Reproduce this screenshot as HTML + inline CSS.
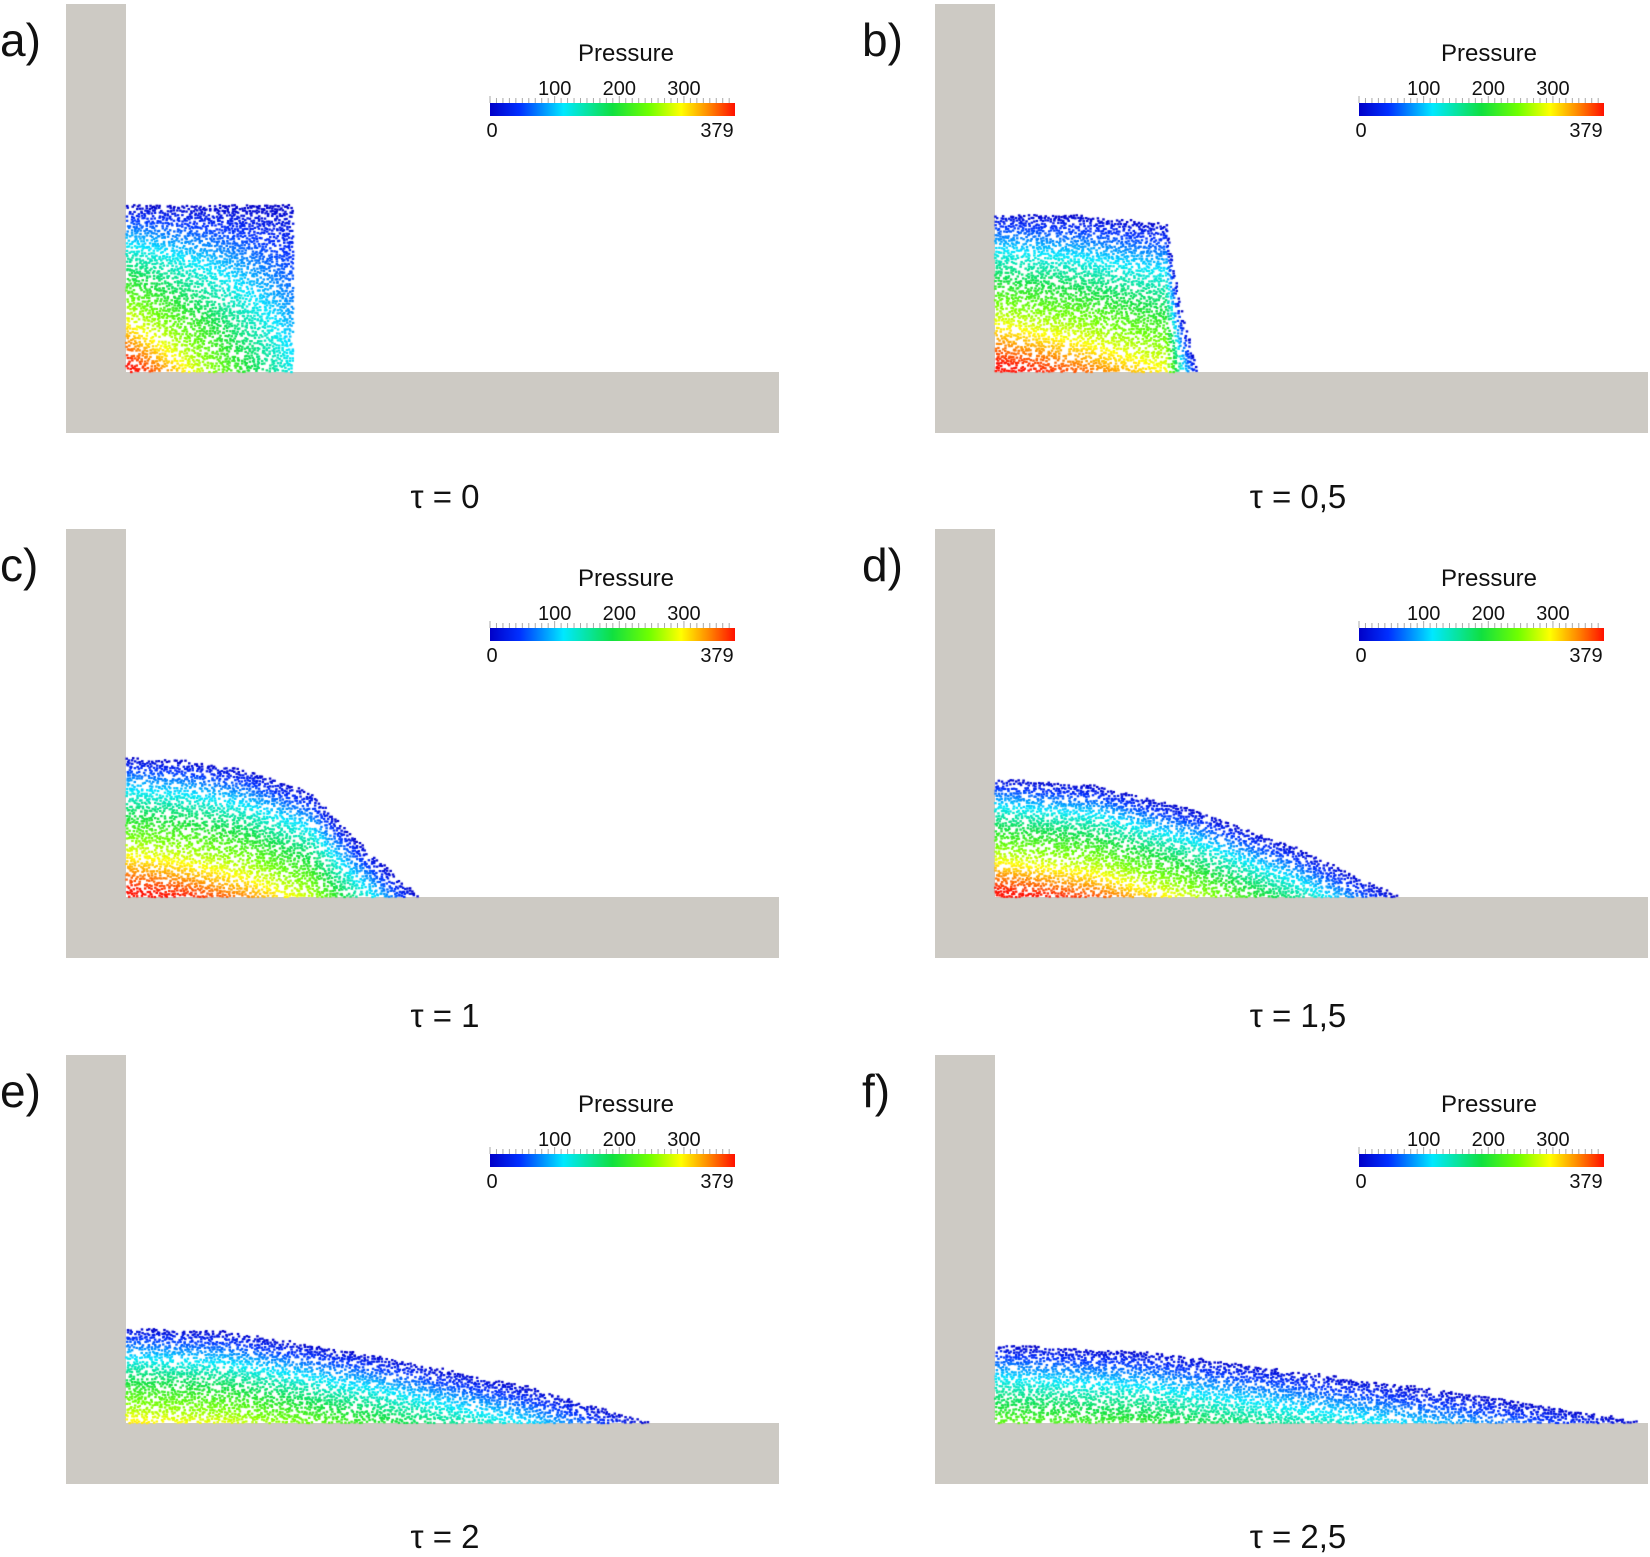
<!DOCTYPE html>
<html><head><meta charset="utf-8">
<style>
html,body{margin:0;padding:0;background:#fff;}
#wrap{position:relative;width:1650px;height:1557px;overflow:hidden;}
svg,canvas{position:absolute;left:0;top:0;}
text{font-family:"Liberation Sans",sans-serif;fill:#111;}
</style></head>
<body>
<div id="wrap">
<svg id="bg" width="1650" height="1557">
<defs>
<linearGradient id="jet" x1="0" x2="1" y1="0" y2="0">
<stop offset="0" stop-color="#0000c8"/>
<stop offset="0.12" stop-color="#0030ff"/>
<stop offset="0.3" stop-color="#00e8ff"/>
<stop offset="0.5" stop-color="#10e040"/>
<stop offset="0.65" stop-color="#70ff00"/>
<stop offset="0.78" stop-color="#ffff00"/>
<stop offset="0.9" stop-color="#ff8000"/>
<stop offset="1" stop-color="#ff1000"/>
</linearGradient>
</defs>
</svg>
<canvas id="cv" width="1650" height="1557"></canvas>
</div>
<script>
// ---- data ----
const panelLabels = ["a)","b)","c)","d)","e)","f)"];
const timeLabels = ["τ = 0","τ = 0,5","τ = 1","τ = 1,5","τ = 2","τ = 2,5"];
const pressureTicks = [100,200,300];
const pressureMin = 0;
const pressureMax = 379;
// surface profile per panel: x distance from wall and water height
const surfX = [
  [0,167],
  [0,85,170,185,202],
  [0,60,120,183,230,291],
  [0,100,200,300,401],
  [0,100,250,400,521],
  [0,150,350,500,646]
];
const surfH = [
  [165,165],
  [157,155,147,60,0],
  [138,135,126,104,55,0],
  [117,110,85,48,0],
  [94,90,66,35,0],
  [77,70,44,24,0]
];
const peakPressure = [379,379,379,379,290,225];
const frontAtten = [0.7,0.25,0.2,0.2,0.2,0.2];

// ---- layout ----
const colX = [66,935];
const rowY = [4,529,1055];
const tauY = [508,1027,1548];
const wallW = 60, floorTopOff = 368, floorH = 61, floorRight = [779,1648];
const NS='http://www.w3.org/2000/svg';
const svg=document.getElementById('bg');
function el(tag,attrs,parent){const e=document.createElementNS(NS,tag);for(const k in attrs)e.setAttribute(k,attrs[k]);(parent||svg).appendChild(e);return e;}

function jet(t){
  t=Math.max(0,Math.min(1,t));
  const stops=[[0,[0,0,200]],[0.12,[0,48,255]],[0.3,[0,232,255]],[0.5,[16,224,64]],[0.65,[112,255,0]],[0.78,[255,255,0]],[0.9,[255,128,0]],[1,[255,16,0]]];
  for(let i=1;i<stops.length;i++){if(t<=stops[i][0]){const a=stops[i-1],b=stops[i];const f=(t-a[0])/(b[0]-a[0]);return 'rgb('+a[1].map((v,j)=>Math.round(v+(b[1][j]-v)*f)).join(',')+')';}}
  return 'rgb(255,16,0)';
}
function hAt(p,x){const X=surfX[p],H=surfH[p];if(x>X[X.length-1])return -1;for(let i=1;i<X.length;i++){if(x<=X[i]){const f=(x-X[i-1])/(X[i]-X[i-1]);return H[i-1]+(H[i]-H[i-1])*f;}}return H[H.length-1];}
function hash(a,b){let h=(a*374761393+b*668265263)|0;h=(h^(h>>>13))*1274126177|0;return ((h^(h>>>16))>>>0)/4294967296;}

const ctx=document.getElementById('cv').getContext('2d');
for(let p=0;p<6;p++){
  const col=p%2,row=Math.floor(p/2);
  const ox=colX[col],oy=rowY[row];
  const g=el('g',{});
  
  
  const wall=el('rect',{x:ox,y:oy,width:wallW,height:floorTopOff+floorH,fill:'#cdcac4'},g);
  
  
  const floor=el('rect',{x:ox,y:oy+floorTopOff,width:floorRight[col]-ox,height:floorH,fill:'#cdcac4'},g);
  
  
  const lab=el('text',{x:col?862:0,y:oy+52,'font-size':46},g);lab.textContent=panelLabels[p];
  
  
  const tl=el('text',{x:col?1298:445,y:tauY[row],'font-size':33,'text-anchor':'middle'},g);tl.textContent=timeLabels[p];
  
  
  // legend
  const bx=col?1359:490, by=oy+99, bw=245, bh=13;
  const lg=el('g',{},g);
  
  
  const tt=el('text',{x:bx+(col?130:136),y:by-42,'font-size':24,'text-anchor':'middle'},lg);tt.textContent='Pressure';
  
  
  el('rect',{x:bx,y:by,width:bw,height:bh,fill:'url(#jet)'},lg);
  const sx=v=>bx+(v-pressureMin)/(pressureMax-pressureMin)*bw;
  for(let v=0;v<=370;v+=10){el('line',{x1:sx(v),x2:sx(v),y1:by-(v%100==0?7:5),y2:by,stroke:'#aaa','stroke-width':1},lg);}
  pressureTicks.forEach(v=>{const t=el('text',{x:sx(v),y:by-8,'font-size':20,'text-anchor':'middle'},lg);t.textContent=v;
    
    });
  const t0=el('text',{x:bx+2,y:by+34,'font-size':20,'text-anchor':'middle'},lg);t0.textContent=pressureMin;
  const t1=el('text',{x:bx+bw-18,y:by+34,'font-size':20,'text-anchor':'middle'},lg);t1.textContent=pressureMax;
  // particles
  const cx0=ox+wallW, fy=oy+floorTopOff;
  const xmax=surfX[p][surfX[p].length-1], h0=surfH[p][0];
  for(let gx=0;gx<=xmax;gx+=2.5){
    const h=hAt(p,gx);
    for(let gy=0;gy<=h;gy+=2.5){
      const r=hash(Math.round(gx*7)+p*1000,Math.round(gy*13)+p);
      if(r<0.3)continue;
      const jx=hash(Math.round(gx)+11,Math.round(gy)+p*31)*2-1, jy=hash(Math.round(gy)+5,Math.round(gx)+p*17)*2-1;
      const depth=h-gy;
      let t=Math.pow(depth/h0,0.85)*(1-frontAtten[p]*gx/xmax)*peakPressure[p]/pressureMax;
      ctx.fillStyle=jet(t*1.05);
      ctx.fillRect(cx0+gx+jx,fy-gy-2+jy,2.5,2.2);
    }
  }
}
</script>
</body></html>
